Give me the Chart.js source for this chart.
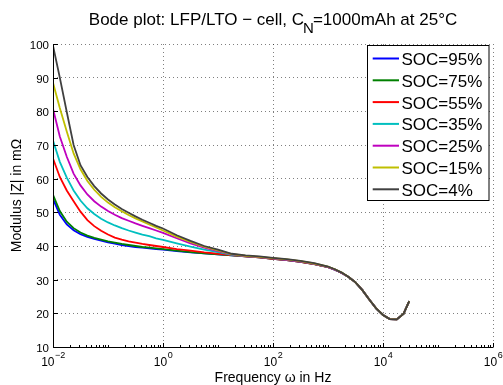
<!DOCTYPE html>
<html><head><meta charset="utf-8">
<script src="https://cdn.jsdelivr.net/npm/chart.js@4.4.0/dist/chart.umd.min.js"></script>
<style>html,body{margin:0;padding:0;background:#fff;}canvas{display:block;}</style>
</head><body>
<canvas id="c" width="503" height="385"></canvas>
<script>
// ---- data ----
const frequencies = [0.01, 0.0133, 0.0178, 0.0237, 0.0316, 0.0422, 0.0562, 0.075, 0.1, 0.133, 0.178, 0.237, 0.316, 0.422, 0.562, 0.75, 1, 1.78, 3.16, 5.62, 10, 17.8, 31.6, 56.2, 100, 178, 316, 562, 1000, 1330, 1780, 2370, 3160, 4220, 5620, 7500, 10000, 13300, 17800, 23700, 30000];
const soc95 = [54.0, 49.3, 46.4, 44.7, 43.5, 42.7, 42.1, 41.6, 41.1, 40.7, 40.3, 40.0, 39.7, 39.5, 39.3, 39.1, 38.9, 38.5, 38.1, 37.8, 37.5, 37.2, 36.9, 36.6, 36.2, 35.8, 35.3, 34.6, 33.7, 33.0, 32.0, 30.8, 29.2, 26.9, 24.1, 21.5, 19.5, 18.3, 18.2, 19.9, 23.6];
const soc75 = [55.2, 50.4, 47.2, 45.3, 44.0, 43.1, 42.4, 41.9, 41.4, 41.0, 40.6, 40.3, 40.0, 39.7, 39.5, 39.3, 39.1, 38.6, 38.2, 37.8, 37.5, 37.2, 36.9, 36.6, 36.2, 35.8, 35.3, 34.6, 33.7, 33.0, 32.0, 30.8, 29.2, 26.9, 24.1, 21.5, 19.5, 18.3, 18.2, 19.9, 23.6];
const soc55 = [66.0, 60.5, 56.5, 53.3, 50.2, 47.7, 45.9, 44.5, 43.4, 42.5, 41.9, 41.4, 41.0, 40.6, 40.3, 40.0, 39.7, 39.1, 38.6, 38.1, 37.7, 37.3, 36.9, 36.6, 36.2, 35.8, 35.3, 34.6, 33.7, 33.0, 32.0, 30.8, 29.2, 26.9, 24.1, 21.5, 19.5, 18.3, 18.2, 19.9, 23.6];
const soc35 = [71.3, 65.0, 60.3, 56.5, 53.5, 51.2, 49.5, 48.1, 47.0, 46.1, 45.3, 44.6, 44.0, 43.4, 42.9, 42.3, 41.8, 40.8, 39.8, 38.9, 38.2, 37.4, 37.0, 36.7, 36.3, 35.9, 35.4, 34.7, 33.8, 33.0, 32.0, 30.8, 29.2, 26.9, 24.1, 21.5, 19.5, 18.3, 18.2, 19.9, 23.6];
const soc25 = [80.8, 72.5, 66.5, 61.5, 58.0, 55.3, 53.3, 51.7, 50.4, 49.3, 48.3, 47.5, 46.7, 46.0, 45.3, 44.6, 43.9, 42.3, 40.8, 39.5, 38.5, 37.5, 37.0, 36.7, 36.3, 35.9, 35.4, 34.7, 33.8, 33.0, 32.0, 30.8, 29.2, 26.9, 24.1, 21.5, 19.5, 18.3, 18.2, 19.9, 23.6];
const soc15 = [88.5, 81.0, 74.0, 67.5, 62.8, 59.3, 56.7, 54.6, 52.9, 51.5, 50.3, 49.2, 48.2, 47.3, 46.4, 45.5, 44.6, 42.8, 41.2, 39.8, 38.7, 37.6, 37.1, 36.8, 36.4, 36.0, 35.5, 34.8, 33.9, 33.1, 32.1, 30.8, 29.2, 26.9, 24.1, 21.5, 19.5, 18.3, 18.2, 19.9, 23.6];
const soc4  = [99.5, 90.0, 79.8, 70.0, 64.0, 60.5, 57.8, 55.6, 53.8, 52.3, 51.0, 49.9, 48.8, 47.8, 46.9, 46.0, 45.2, 43.2, 41.5, 40.0, 38.9, 37.7, 37.2, 36.9, 36.5, 36.1, 35.6, 34.9, 33.9, 33.1, 32.1, 30.8, 29.2, 26.9, 24.1, 21.5, 19.5, 18.3, 18.2, 19.9, 23.6];
const seriesLabels = ['SOC=95%', 'SOC=75%', 'SOC=55%', 'SOC=35%', 'SOC=25%', 'SOC=15%', 'SOC=4%'];
const seriesValues = [soc95, soc75, soc55, soc35, soc25, soc15, soc4];
const seriesColors = ['#0000ff', '#008000', '#ff0000', '#00bfbf', '#bf00bf', '#bfbf00', '#404040'];
const yTicks = [10, 20, 30, 40, 50, 60, 70, 80, 90, 100];
const xTickExponents = [-2, 0, 2, 4, 6];
const xDecadeExponents = [-2, -1, 0, 1, 2, 3, 4, 5, 6];
const xMinorMultipliers = [2, 3, 4, 5, 6, 7, 8, 9];
const titleParts = ['Bode plot: LFP/LTO \u2212 cell, C', 'N', '=1000mAh at 25\u00B0C'];
const xTitle = 'Frequency \u03C9 in Hz';
const yTitle = 'Modulus |Z| in m\u03A9';

const FONT = '"Liberation Sans", Arial, Helvetica, sans-serif';
const gridColor = 'rgba(0,0,0,0.5)';

const decor = {
  id: 'decor',
  afterDatasetsDraw(chart) {
    const { ctx, chartArea: a, scales: { x, y } } = chart;
    ctx.save();
    ctx.setLineDash([]);
    ctx.strokeStyle = '#000';
    ctx.fillStyle = '#000';
    ctx.lineWidth = 1;
    const L = (x1, y1, x2, y2) => { ctx.beginPath(); ctx.moveTo(x1, y1); ctx.lineTo(x2, y2); ctx.stroke(); };
    const left = Math.round(a.left) + 0.5, bottom = Math.round(a.bottom) + 0.5;
    L(left, a.top, left, bottom);
    L(left, bottom, a.right, bottom);
    // y ticks + labels
    ctx.font = '11.5px ' + FONT;
    ctx.textAlign = 'right'; ctx.textBaseline = 'alphabetic';
    yTicks.forEach(v => {
      const py = Math.round(y.getPixelForValue(v)) + 0.5;
      L(left, py, left + 4.5, py);
      ctx.fillText(String(v), left - 4.5, py + 4.5);
    });
    // x ticks
    xDecadeExponents.forEach(e => {
      const major = xTickExponents.includes(e);
      const px = Math.round(x.getPixelForValue(Math.pow(10, e))) + 0.5;
      L(px, bottom, px, bottom - (major ? 4.5 : 2.5));
      if (e < 6) xMinorMultipliers.forEach(m => {
        const qx = Math.round(x.getPixelForValue(m * Math.pow(10, e))) + 0.5;
        L(qx, bottom, qx, bottom - 2.5);
      });
    });
    // x labels with superscripts
    xTickExponents.forEach(e => {
      const px = x.getPixelForValue(Math.pow(10, e));
      const base = '10', sup = (e < 0 ? '\u2212' : '') + Math.abs(e);
      ctx.font = '12px ' + FONT; const wb = ctx.measureText(base).width;
      ctx.font = '9px ' + FONT; const ws = ctx.measureText(sup).width;
      const start = px - (wb + ws) / 2;
      ctx.textAlign = 'left';
      ctx.font = '12px ' + FONT; ctx.fillText(base, start, 366);
      ctx.font = '9px ' + FONT; ctx.fillText(sup, start + wb + 0.5, 357.5);
    });
    // axis titles
    ctx.font = '14px ' + FONT;
    ctx.textAlign = 'center';
    ctx.fillText(xTitle, (a.left + a.right) / 2, 382);
    ctx.save();
    ctx.translate(21, (a.top + a.bottom) / 2);
    ctx.rotate(-Math.PI / 2);
    ctx.fillText(yTitle, 0, 0);
    ctx.restore();
    // title
    ctx.font = '17px ' + FONT;
    const w1 = ctx.measureText(titleParts[0]).width;
    ctx.font = '15px ' + FONT;
    const w2 = ctx.measureText(titleParts[1]).width;
    ctx.font = '17px ' + FONT;
    const w3 = ctx.measureText(titleParts[2]).width;
    const total = w1 + w2 + w3 - 2;
    let tx = (a.left + a.right) / 2 - total / 2;
    ctx.textAlign = 'left';
    ctx.fillText(titleParts[0], tx, 25);
    ctx.font = '15px ' + FONT;
    ctx.fillText(titleParts[1], tx + w1 - 1, 33);
    ctx.font = '17px ' + FONT;
    ctx.fillText(titleParts[2], tx + w1 + w2 - 2, 25);
    // legend
    const bx = 367.5, by = 45.5, bw = 121.5, bh = 155;
    ctx.fillStyle = '#fff';
    ctx.fillRect(bx, by, bw, bh);
    ctx.strokeStyle = '#000';
    ctx.strokeRect(bx, by, bw, bh);
    ctx.font = '17px ' + FONT;
    ctx.textAlign = 'left';
    chart.data.datasets.forEach((ds, i) => {
      const ry = 58.5 + i * 21.8;
      ctx.strokeStyle = ds.borderColor;
      ctx.lineWidth = 2;
      L(372.7, ry, 399, ry);
      ctx.fillStyle = '#000';
      ctx.fillText(ds.label, 401.5, ry + 6.5);
    });
    ctx.restore();
  }
};

const datasets = seriesValues.map((vals, i) => ({
  label: seriesLabels[i],
  data: frequencies.map((f, j) => ({ x: f, y: vals[j] })),
  borderColor: seriesColors[i],
  backgroundColor: seriesColors[i],
  borderWidth: 1.8,
  pointRadius: 0,
  fill: false,
  tension: 0,
  order: seriesValues.length - 1 - i
}));

new Chart(document.getElementById('c'), {
  type: 'line',
  data: { datasets },
  options: {
    responsive: false,
    animation: false,
    devicePixelRatio: 1,
    layout: { padding: { left: 53, top: 44, right: 10, bottom: 38 } },
    plugins: { legend: { display: false }, title: { display: false }, tooltip: { enabled: false } },
    scales: {
      x: {
        type: 'logarithmic', min: 0.01, max: 1e6,
        afterBuildTicks: s => { s.ticks = xTickExponents.map(e => ({ value: Math.pow(10, e) })); },
        ticks: { display: false },
        grid: { color: gridColor, drawTicks: false, lineWidth: 1 },
        border: { display: false, dash: [1, 3] }
      },
      y: {
        type: 'linear', min: 10, max: 100,
        afterBuildTicks: s => { s.ticks = yTicks.map(v => ({ value: v })); },
        ticks: { display: false },
        grid: { color: gridColor, drawTicks: false, lineWidth: 1 },
        border: { display: false, dash: [1, 3] }
      }
    }
  },
  plugins: [decor]
});
</script>
</body></html>
